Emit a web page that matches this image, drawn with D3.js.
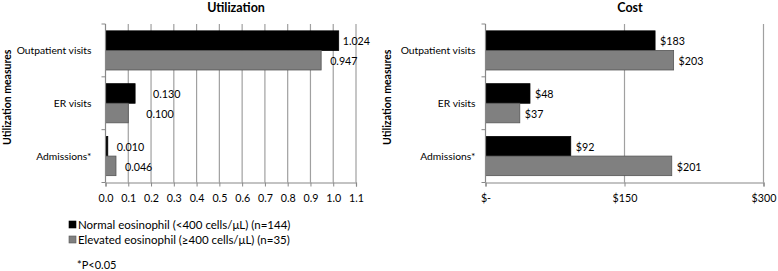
<!DOCTYPE html>
<html><head><meta charset="utf-8">
<script src="https://cdn.jsdelivr.net/npm/d3@7/dist/d3.min.js"></script>
<style>
body{margin:0;background:#fff;}
text{font-family:Lato,"Liberation Sans",sans-serif;fill:#000;}
</style></head>
<body><svg id="c" width="778" height="271"></svg>
<script>
const categories = ["Outpatient visits", "ER visits", "Admissions*"];
const seriesNames = ["Normal eosinophil (<400 cells/\u03bcL) (n=144)", "Elevated eosinophil (\u2265400 cells/\u03bcL) (n=35)"];
const utilNormal = [1.024, 0.130, 0.010];
const utilElevated = [0.947, 0.100, 0.046];
const costNormal = [183, 48, 92];
const costElevated = [203, 37, 201];
const utilTicks = [0, 0.1, 0.2, 0.3, 0.4, 0.5, 0.6, 0.7, 0.8, 0.9, 1.0, 1.1];
const costTicks = [0, 150, 300];
const costTickLabels = ["$-", "$150", "$300"];
const footnote = "*P<0.05";

const svg = d3.select("#c");
const colors = ["#000000", "#808080"];
const strokes = ["#000000", "#555555"];
const gridColor = "#a0a0a0";
const fs = 10.3;

function panel(opt){
  const g = svg.append("g");
  const x = d3.scaleLinear().domain(opt.domain).range([opt.x0, opt.x1]);
  const y = d3.scaleBand().domain(categories).range([opt.y0, opt.y1]).padding(0);
  const ys = d3.scaleBand().domain([0,1]).range([0, y.bandwidth()]).paddingInner(0).paddingOuter(0.35);

  g.selectAll("line.grid").data(opt.gridTicks).join("line")
    .attr("x1", d=>x(d)).attr("x2", d=>x(d))
    .attr("y1", opt.y0).attr("y2", opt.y1)
    .attr("stroke", gridColor).attr("stroke-width", 1.2);

  const vals = [opt.a, opt.b];
  categories.forEach((c,i)=>{
    [0,1].forEach(s=>{
      const v = vals[s][i];
      g.append("rect")
        .attr("x", x(0)).attr("y", y(c)+ys(s))
        .attr("width", Math.max(0.5, x(v)-x(0))).attr("height", ys.bandwidth())
        .attr("fill", colors[s]).attr("stroke", strokes[s]).attr("stroke-width", 0.8);
      g.append("text")
        .attr("x", x(v) + opt.labelDx[s][i]).attr("y", y(c)+ys(s)+ys.bandwidth()/2 + 1)
        .attr("dy","0.36em").attr("font-size", fs + 0.4)
        .text(opt.fmt(v));
    });
  });

  const xa = d3.axisBottom(x).tickValues(opt.ticks).tickSize(4).tickFormat((d,i)=>opt.tickFmt(d,i));
  const gx = g.append("g").attr("transform", `translate(0,${opt.y1})`).call(xa);
  gx.select(".domain").attr("stroke", "#888").attr("stroke-width", 1.2);
  gx.selectAll(".tick line").attr("stroke", "#888");
  gx.selectAll(".tick text").attr("font-size", fs + 0.4).attr("dy", "1.15em").attr("font-family", "Lato,sans-serif").attr("fill","#000");

  g.append("line").attr("x1", x(0)).attr("x2", x(0)).attr("y1", opt.y0).attr("y2", opt.y1)
    .attr("stroke", "#888").attr("stroke-width", 1.2);
  const bounds = categories.map(c=>y(c)).concat([opt.y1]);
  g.selectAll("line.yt").data(bounds).join("line")
    .attr("x1", x(0)-4).attr("x2", x(0)).attr("y1", d=>d).attr("y2", d=>d)
    .attr("stroke", "#888");
  g.selectAll("text.cat").data(categories).join("text")
    .attr("x", x(0)-opt.catGap).attr("y", d=>y(d)+y.bandwidth()/2)
    .attr("dy","0.36em").attr("text-anchor","end").attr("font-size", fs)
    .text(d=>d);

  g.append("text").attr("x", opt.titleX).attr("y", 12).attr("text-anchor","middle")
    .attr("font-weight","bold").attr("font-size", 12.5).text(opt.title);
  g.append("text").attr("transform", `translate(${opt.yTitleX},${(opt.y0+opt.y1)/2 - 6}) rotate(-90)`)
    .attr("text-anchor","middle").attr("font-weight","bold").attr("font-size", 10.5)
    .text("Utilization measures");
}

panel({
  domain:[0,1.1], x0:105.5, x1:356, y0:24, y1:182.5,
  a: utilNormal, b: utilElevated,
  ticks: utilTicks, gridTicks: utilTicks.slice(1),
  tickFmt: d=>d3.format(".1f")(d),
  fmt: d=>d3.format(".3f")(d),
  labelDx: [[4,18,9],[9,18,9]],
  catGap: 14,
  title:"Utilization", titleX:236, yTitleX:11
});
panel({
  domain:[0,300], x0:485.5, x1:763.5, y0:24, y1:182.5,
  a: costNormal, b: costElevated,
  ticks: costTicks, gridTicks: costTicks.slice(1),
  tickFmt: (d,i)=>costTickLabels[i],
  fmt: d=>"$"+d,
  labelDx: [[5,5,5],[5,5,5]],
  catGap: 10,
  title:"Cost", titleX:630, yTitleX:391
});

const leg = svg.append("g");
seriesNames.forEach((s,i)=>{
  const yy = 225 + i*15;
  leg.append("rect").attr("x", 69).attr("y", yy-4).attr("width", 7).attr("height", 7)
    .attr("fill", colors[i]).attr("stroke", strokes[i]).attr("stroke-width",0.6);
  leg.append("text").attr("x", 78).attr("y", yy).attr("dy","0.36em").attr("font-size", 11.5).text(s);
});
svg.append("text").attr("x", 77).attr("y", 265).attr("dy","0.36em").attr("font-size", 11).text(footnote);
</script></body></html>
